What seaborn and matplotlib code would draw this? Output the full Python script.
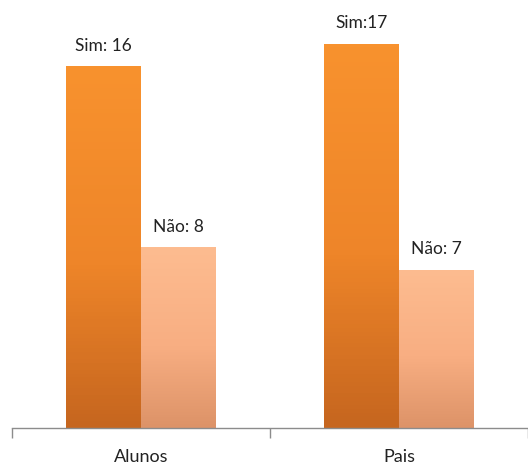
import numpy as np
import pandas as pd
import matplotlib
matplotlib.use("Agg")
import matplotlib.pyplot as plt
import seaborn as sns
from matplotlib.colors import LinearSegmentedColormap

# data
grupos = ["Alunos", "Pais"]
respostas = ["Sim", "Não"]
sim_vals = [16, 17]
nao_vals = [8, 7]
rotulos = ["Sim: 16", "Sim:17", "Não: 8", "Não: 7"]

# bottom / middle / top colours of the bar gradients
grad = {
    "Sim": ("#c6661f", "#ee8529", "#f8922e"),
    "Não": ("#dd9368", "#f8ae82", "#fdbc90"),
}

df = pd.DataFrame({
    "grupo": grupos * 2,
    "resposta": [respostas[0]] * 2 + [respostas[1]] * 2,
    "valor": sim_vals + nao_vals,
})

sns.set_theme(style="white")
plt.rcParams["font.family"] = ["Lato", "DejaVu Sans"]

fig = plt.figure(figsize=(5.28, 4.65), dpi=100)
ax = fig.add_axes([12 / 528, 37 / 465, 1 - 12 / 528, 428 / 465])

sns.barplot(data=df, x="grupo", y="valor", hue="resposta",
            palette={k: v[1] for k, v in grad.items()},
            width=0.58, ax=ax, legend=False, saturation=1)

# vertical gradient inside each bar, plus label on top
for i, p in enumerate(ax.patches):
    serie = respostas[i // 2]
    bot, mid, top = grad[serie]
    cmap = LinearSegmentedColormap.from_list(serie, [(0, bot), (0.45, mid), (1, top)])
    x0, y0 = p.get_x(), p.get_y()
    w, h = p.get_width(), p.get_height()
    img = ax.imshow(np.linspace(0, 1, 100).reshape(-1, 1), cmap=cmap,
                    extent=[x0, x0 + w, y0, y0 + h], origin="lower",
                    aspect="auto", zorder=p.get_zorder() + 0.1)
    img.set_clip_path(p)
    p.set_edgecolor("none")
    ax.text(x0 + w / 2, y0 + h + 0.55, rotulos[i], ha="center", va="bottom",
            fontsize=12.5, color="#222222")

ax.set_xlim(-0.5, 1.5)
ax.set_ylim(0, 428 / 22.6)

for s in ["top", "right", "left"]:
    ax.spines[s].set_visible(False)
ax.spines["bottom"].set_color("#8c8c8c")
ax.spines["bottom"].set_linewidth(1)
ax.set_yticks([])
ax.set_xlabel("")
ax.set_ylabel("")
ax.tick_params(axis="x", which="major", length=0, pad=15, labelsize=13,
               labelcolor="#222222")
ax.set_xticks([-0.5, 0.5, 1.5], minor=True)
ax.tick_params(axis="x", which="minor", length=7, color="#8c8c8c",
               direction="out", bottom=True)

fig.savefig("out.png", dpi=100)
